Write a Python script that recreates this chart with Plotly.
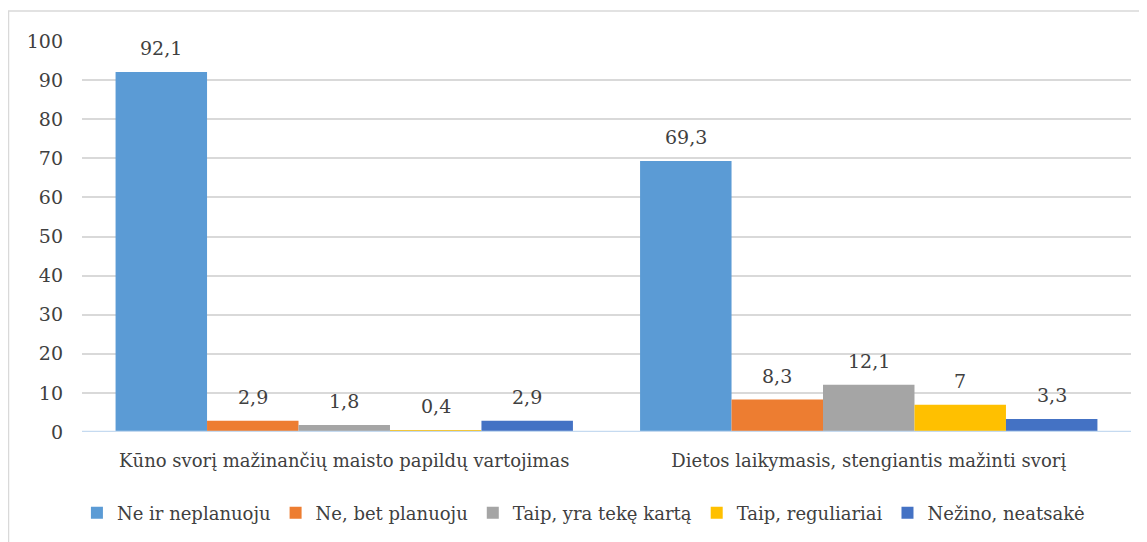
import plotly.graph_objects as go

categories = ["Kūno svorį mažinančių maisto papildų vartojimas",
              "Dietos laikymasis, stengiantis mažinti svorį"]
series_names = ["Ne ir neplanuoju", "Ne, bet planuoju", "Taip, yra tekę kartą",
                "Taip, reguliariai", "Nežino, neatsakė"]
values_ne_neplanuoju = [92.1, 69.3]
values_ne_planuoju = [2.9, 8.3]
values_taip_karta = [1.8, 12.1]
values_taip_reguliariai = [0.4, 7]
values_nezino = [2.9, 3.3]
y_ticks = [0, 10, 20, 30, 40, 50, 60, 70, 80, 90, 100]

series_values = [values_ne_neplanuoju, values_ne_planuoju, values_taip_karta,
                 values_taip_reguliariai, values_nezino]
colors = ["#5B9BD5", "#ED7D31", "#A5A5A5", "#FFC000", "#4472C4"]

FONT = "DejaVu Serif"
TXT = "#404040"

# page has an 8px body margin; figure coordinates = page coordinates - 8
W, H = 1139, 534
ml, mr, mt, mb = 74, 16, 33, 109
pw = W - ml - mr
ph = H - mt - mb
bargap = 0.128

fig = go.Figure()
for name, vals, c in zip(series_names, series_values, colors):
    fig.add_trace(go.Bar(x=categories, y=vals, name=name, marker_color=c,
                         marker_line_width=0))

def fmt(v):
    return ("%g" % v).replace(".", ",")

cat_px = pw / len(categories)
bar_px = cat_px * (1 - bargap) / len(series_names)
annotations = []
for i, vals in enumerate(series_values):
    off = (i - (len(series_names) - 1) / 2) * bar_px
    for j, v in enumerate(vals):
        annotations.append(dict(x=categories[j], y=v, xref="x", yref="y",
                                text=fmt(v), showarrow=False, xshift=off,
                                yanchor="bottom", yshift=11,
                                font=dict(family=FONT, size=19, color=TXT)))

fig.update_layout(
    width=W, height=H,
    margin=dict(l=ml, r=mr, t=mt, b=mb),
    paper_bgcolor="white", plot_bgcolor="white",
    barmode="group", bargap=bargap, bargroupgap=0,
    font=dict(family=FONT, size=18, color=TXT),
    annotations=annotations,
    showlegend=True,
    legend=dict(orientation="h", x=0.478, xanchor="center", y=(425 - 505) / ph,
                yanchor="middle", font=dict(family=FONT, size=18, color=TXT),
                itemwidth=30, tracegroupgap=0),
    xaxis=dict(showgrid=False, showline=False, ticks="", ticklabelstandoff=16,
               tickfont=dict(family=FONT, size=18, color=TXT)),
    yaxis=dict(range=[0, 100], tickvals=y_ticks, showgrid=True, gridcolor="#D9D9D9",
               gridwidth=1.5, zeroline=False, showline=False, ticks="",
               ticklabelstandoff=18, tickfont=dict(family=FONT, size=19, color=TXT)),
    shapes=[
        dict(type="rect", xref="paper", yref="paper",
             x0=(0.5 - ml) / pw, x1=(1160 - ml) / pw,
             y0=(H - mb - 560) / ph, y1=(H - mb - 3) / ph,
             line=dict(color="#D9D9D9", width=1.5), fillcolor="rgba(0,0,0,0)", layer="below"),
        dict(type="line", xref="paper", yref="y", x0=0, x1=1, y0=0, y1=0,
             line=dict(color="#C5DAF0", width=2.5), layer="above"),
    ],
)

fig.write_html("out.html")
